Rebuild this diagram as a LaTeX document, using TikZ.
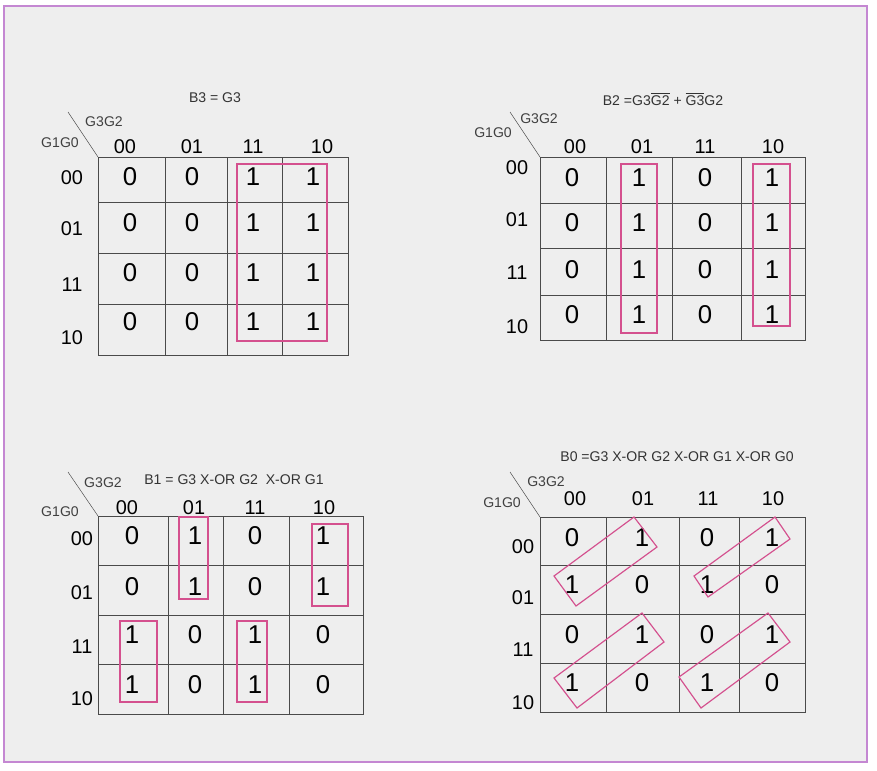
\documentclass[tikz,border=0pt]{standalone}
\usepackage{fontspec}
\setmainfont{Liberation Sans}
\definecolor{framevio}{HTML}{C487D2}
\definecolor{paper}{HTML}{EEEEEE}
\definecolor{grp}{HTML}{D4508E}
\definecolor{gridgray}{HTML}{4A4A4A}
\newcommand{\ovl}[1]{$\overline{\mbox{#1}}$}
\begin{document}
\begin{tikzpicture}[x=0.03cm, y=-0.03cm]
\tikzset{val/.style={inner sep=0pt, font=\fontsize{22}{25}\selectfont},
  hdr/.style={inner sep=0pt, font=\fontsize{17}{20}\selectfont},
  var/.style={inner sep=0pt, text=black!75, font=\fontsize{12}{14}\selectfont},
  ttl/.style={inner sep=0pt, text=black!80, font=\fontsize{12}{14}\selectfont},
  kgrid/.style={draw=gridgray, line width=0.8pt},
  kgroup/.style={draw=grp, line width=1pt}}
\useasboundingbox (0,0) rectangle (877,770);
\draw[framevio, fill=paper, line width=1pt] (4,6) rectangle (867,762);
% B3 map
\node[ttl] (t3) at (215,98) {B3 = G3};
\draw[gridgray] (68,112) -- (98,157);
\node[var] (c3) at (104,122) {G3G2};
\node[var] (r3) at (60,143) {G1G0};
\draw[kgrid] (98,157) rectangle (348,355);
\draw[kgrid] (165,157) -- (165,355);
\draw[kgrid] (227,157) -- (227,355);
\draw[kgrid] (282,157) -- (282,355);
\draw[kgrid] (98,202) -- (348,202);
\draw[kgrid] (98,253) -- (348,253);
\draw[kgrid] (98,304) -- (348,304);
\node[hdr] (h3a) at (125,147) {00};
\node[hdr] (h3b) at (192,147) {01};
\node[hdr] (h3c) at (253,147) {11};
\node[hdr] (h3d) at (322,147) {10};
\node[hdr] (v3a) at (72,178) {00};
\node[hdr] (v3b) at (72,229) {01};
\node[hdr] (v3c) at (72,285) {11};
\node[hdr] (v3d) at (72,338) {10};
\node[val] (m3aa) at (130,177) {0};
\node[val] (m3ab) at (192,177) {0};
\node[val] (m3ac) at (253,177) {1};
\node[val] (m3ad) at (313,177) {1};
\node[val] (m3ba) at (130,223) {0};
\node[val] (m3bb) at (192,223) {0};
\node[val] (m3bc) at (253,223) {1};
\node[val] (m3bd) at (313,223) {1};
\node[val] (m3ca) at (130,273) {0};
\node[val] (m3cb) at (192,273) {0};
\node[val] (m3cc) at (253,273) {1};
\node[val] (m3cd) at (313,273) {1};
\node[val] (m3da) at (130,322) {0};
\node[val] (m3db) at (192,322) {0};
\node[val] (m3dc) at (253,322) {1};
\node[val] (m3dd) at (313,322) {1};
\draw[kgroup] (237,164) rectangle (327,341);
% B2 map
\node[ttl] (t2) at (663,99) {B2 =G3\ovl{G2} + \ovl{G3}G2};
\draw[gridgray] (510,112) -- (540,157);
\node[var] (c2) at (539,119) {G3G2};
\node[var] (r2) at (493,133) {G1G0};
\draw[kgrid] (540,157) rectangle (805,340);
\draw[kgrid] (606,157) -- (606,340);
\draw[kgrid] (672,157) -- (672,340);
\draw[kgrid] (741,157) -- (741,340);
\draw[kgrid] (540,203) -- (805,203);
\draw[kgrid] (540,248) -- (805,248);
\draw[kgrid] (540,295) -- (805,295);
\node[hdr] (h2a) at (575,147) {00};
\node[hdr] (h2b) at (642,147) {01};
\node[hdr] (h2c) at (705,147) {11};
\node[hdr] (h2d) at (773,147) {10};
\node[hdr] (v2a) at (517,168) {00};
\node[hdr] (v2b) at (517,220) {01};
\node[hdr] (v2c) at (517,273) {11};
\node[hdr] (v2d) at (517,327) {10};
\node[val] (m2aa) at (572,178) {0};
\node[val] (m2ab) at (639,178) {1};
\node[val] (m2ac) at (705,178) {0};
\node[val] (m2ad) at (772,178) {1};
\node[val] (m2ba) at (572,223) {0};
\node[val] (m2bb) at (639,223) {1};
\node[val] (m2bc) at (705,223) {0};
\node[val] (m2bd) at (772,223) {1};
\node[val] (m2ca) at (572,270) {0};
\node[val] (m2cb) at (639,270) {1};
\node[val] (m2cc) at (705,270) {0};
\node[val] (m2cd) at (772,270) {1};
\node[val] (m2da) at (572,315) {0};
\node[val] (m2db) at (639,315) {1};
\node[val] (m2dc) at (705,315) {0};
\node[val] (m2dd) at (772,315) {1};
\draw[kgroup] (621,164) rectangle (657,333);
\draw[kgroup] (753,164) rectangle (790,326);
% B1 map
\node[ttl] (t1) at (234,480) {B1 = G3 X-OR G2 \ X-OR G1};
\draw[gridgray] (68,472) -- (98,516);
\node[var] (c1) at (103,483) {G3G2};
\node[var] (r1) at (60,512) {G1G0};
\draw[kgrid] (98,516) rectangle (363,714);
\draw[kgrid] (168,516) -- (168,714);
\draw[kgrid] (223,516) -- (223,714);
\draw[kgrid] (289,516) -- (289,714);
\draw[kgrid] (98,565) -- (363,565);
\draw[kgrid] (98,615) -- (363,615);
\draw[kgrid] (98,664) -- (363,664);
\node[hdr] (h1a) at (127,508) {00};
\node[hdr] (h1b) at (194,508) {01};
\node[hdr] (h1c) at (255,508) {11};
\node[hdr] (h1d) at (324,508) {10};
\node[hdr] (v1a) at (82,539) {00};
\node[hdr] (v1b) at (82,593) {01};
\node[hdr] (v1c) at (82,647) {11};
\node[hdr] (v1d) at (82,699) {10};
\node[val] (m1aa) at (132,536) {0};
\node[val] (m1ab) at (195,536) {1};
\node[val] (m1ac) at (255,536) {0};
\node[val] (m1ad) at (323,536) {1};
\node[val] (m1ba) at (132,587) {0};
\node[val] (m1bb) at (195,587) {1};
\node[val] (m1bc) at (255,587) {0};
\node[val] (m1bd) at (323,587) {1};
\node[val] (m1ca) at (132,635) {1};
\node[val] (m1cb) at (195,635) {0};
\node[val] (m1cc) at (255,635) {1};
\node[val] (m1cd) at (323,635) {0};
\node[val] (m1da) at (132,685) {1};
\node[val] (m1db) at (195,685) {0};
\node[val] (m1dc) at (255,685) {1};
\node[val] (m1dd) at (323,685) {0};
\draw[kgroup] (179,517) rectangle (208,599);
\draw[kgroup] (312,524) rectangle (348,606);
\draw[kgroup] (120,621) rectangle (157,702);
\draw[kgroup] (237,621) rectangle (267,702);
% B0 map
\node[ttl] (t0) at (677,457) {B0 =G3 X-OR G2 X-OR G1 X-OR G0};
\draw[gridgray] (510,472) -- (540,517);
\node[var] (c0) at (546,482) {G3G2};
\node[var] (r0) at (502,503) {G1G0};
\draw[kgrid] (540,517) rectangle (805,712);
\draw[kgrid] (606,517) -- (606,712);
\draw[kgrid] (679,517) -- (679,712);
\draw[kgrid] (739,517) -- (739,712);
\draw[kgrid] (540,565) -- (805,565);
\draw[kgrid] (540,614) -- (805,614);
\draw[kgrid] (540,663) -- (805,663);
\node[hdr] (h0a) at (575,499) {00};
\node[hdr] (h0b) at (643,499) {01};
\node[hdr] (h0c) at (708,499) {11};
\node[hdr] (h0d) at (773,499) {10};
\node[hdr] (v0a) at (523,547) {00};
\node[hdr] (v0b) at (523,598) {01};
\node[hdr] (v0c) at (523,650) {11};
\node[hdr] (v0d) at (523,703) {10};
\node[val] (m0aa) at (572,538) {0};
\node[val] (m0ab) at (642,538) {1};
\node[val] (m0ac) at (707,538) {0};
\node[val] (m0ad) at (772,538) {1};
\node[val] (m0ba) at (572,585) {1};
\node[val] (m0bb) at (642,585) {0};
\node[val] (m0bc) at (707,585) {1};
\node[val] (m0bd) at (772,585) {0};
\node[val] (m0ca) at (572,635) {0};
\node[val] (m0cb) at (642,635) {1};
\node[val] (m0cc) at (707,635) {0};
\node[val] (m0cd) at (772,635) {1};
\node[val] (m0da) at (572,683) {1};
\node[val] (m0db) at (642,683) {0};
\node[val] (m0dc) at (707,683) {1};
\node[val] (m0dd) at (772,683) {0};
\draw[kgroup] (634,517) -- (657,547) -- (576,606) -- (554,576) -- cycle;
\draw[kgroup] (775,517) -- (790,539) -- (708,597) -- (694,576) -- cycle;
\draw[kgroup] (642,613) -- (664,642) -- (577,708) -- (554,678) -- cycle;
\draw[kgroup] (768,613) -- (790,642) -- (701,708) -- (679,677) -- cycle;
\end{tikzpicture}
\end{document}
